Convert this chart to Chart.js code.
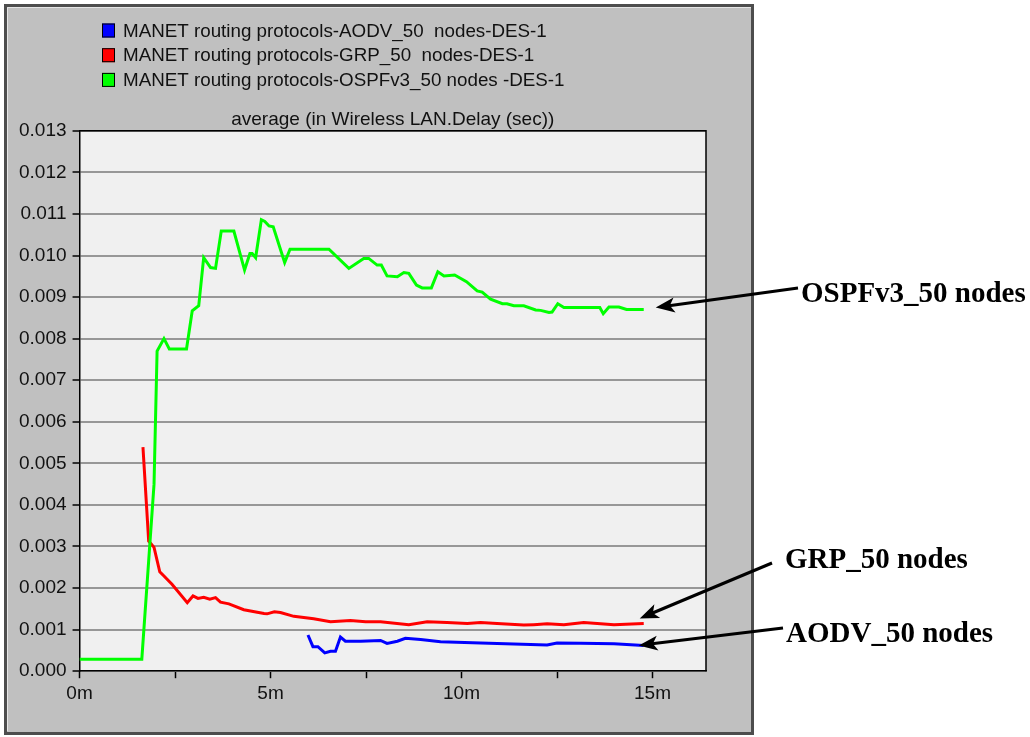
<!DOCTYPE html>
<html>
<head>
<meta charset="utf-8">
<title>Wireless LAN Delay - MANET routing protocols</title>
<script src="https://cdn.jsdelivr.net/npm/chart.js@4.4.0/dist/chart.umd.min.js"></script>
<style>
  html, body { margin: 0; padding: 0; background: #ffffff; }
  #plot { display: block; }
</style>
</head>
<body>
<canvas id="plot" width="1030" height="737"></canvas>
<script>
// simulation time (minutes) / average Wireless LAN delay (sec)
const aodvTime  = [5.98, 6.11, 6.24, 6.42, 6.57, 6.70, 6.83, 6.96, 7.36, 7.88, 8.05, 8.32, 8.53, 8.93, 9.45, 10.50, 12.24, 12.50, 13.12, 13.99, 14.77];
const aodvDelay = [0.00087, 0.00059, 0.00059, 0.00044, 0.00048, 0.00048, 0.00082, 0.00072, 0.00072, 0.00074, 0.00067, 0.00072, 0.00079, 0.00076, 0.00071, 0.00068, 0.00063, 0.00068, 0.00067, 0.00066, 0.00062];

const grpTime  = [1.66, 1.81, 1.95, 2.10, 2.21, 2.42, 2.82, 2.97, 3.10, 3.25, 3.41, 3.56, 3.69, 3.91, 4.30, 4.83, 4.91, 5.10, 5.26, 5.61, 6.13, 6.57, 7.09, 7.49, 7.88, 8.62, 9.10, 9.62, 10.15, 10.50, 10.93, 11.63, 11.89, 12.24, 12.68, 13.20, 13.64, 13.99, 14.77];
const grpDelay = [0.00539, 0.00313, 0.00298, 0.00239, 0.00229, 0.00209, 0.00165, 0.00181, 0.00175, 0.00178, 0.00173, 0.00177, 0.00166, 0.00162, 0.00148, 0.00139, 0.00138, 0.00143, 0.00141, 0.00132, 0.00126, 0.00119, 0.00122, 0.00119, 0.00119, 0.00112, 0.00119, 0.00117, 0.00115, 0.00117, 0.00115, 0.00111, 0.00112, 0.00114, 0.00112, 0.00117, 0.00114, 0.00112, 0.00115];

const ospfTime  = [0, 1.63, 1.95, 2.03, 2.21, 2.35, 2.80, 2.95, 3.12, 3.25, 3.43, 3.56, 3.71, 4.04, 4.32, 4.46, 4.52, 4.61, 4.76, 4.85, 4.96, 5.07, 5.37, 5.51, 6.53, 7.05, 7.44, 7.57, 7.79, 7.90, 8.05, 8.32, 8.49, 8.62, 8.82, 8.97, 9.21, 9.38, 9.54, 9.82, 10.13, 10.41, 10.54, 10.76, 11.07, 11.19, 11.37, 11.63, 11.94, 12.07, 12.29, 12.37, 12.52, 12.68, 13.62, 13.71, 13.86, 14.12, 14.32, 14.77];
const ospfDelay = [0.00029, 0.00029, 0.0045, 0.0077, 0.0080, 0.00775, 0.00775, 0.00867, 0.00879, 0.00995, 0.00971, 0.00969, 0.01059, 0.01059, 0.00965, 0.01005, 0.01005, 0.00995, 0.01086, 0.01082, 0.01071, 0.01069, 0.00983, 0.01015, 0.01015, 0.00969, 0.00993, 0.00993, 0.00977, 0.00977, 0.00951, 0.00949, 0.00959, 0.00957, 0.00929, 0.00922, 0.00922, 0.00961, 0.00951, 0.00953, 0.00937, 0.00915, 0.00912, 0.00895, 0.00884, 0.00884, 0.00879, 0.00879, 0.00869, 0.00868, 0.00863, 0.00864, 0.00884, 0.00875, 0.00875, 0.00860, 0.00876, 0.00876, 0.00870, 0.00870];

const seriesLabels = [
    "MANET routing protocols-AODV_50  nodes-DES-1",
    "MANET routing protocols-GRP_50  nodes-DES-1",
    "MANET routing protocols-OSPFv3_50 nodes -DES-1"
];
const seriesColors = ["#0000ff", "#ff0000", "#00ff00"];
const xTickLabels = [0, 5, 10, 15];   // minutes shown under the axis
const noteLabels = ["AODV_50 nodes", "GRP_50 nodes", "OSPFv3_50 nodes"];
const chartTitle = "average (in Wireless LAN.Delay (sec))";

const toPoints = (t, v) => t.map((x, i) => ({x: x, y: v[i]}));

const FONT = "'Liberation Sans', Arial, sans-serif";

// gray OPNET-style panel + light plot background
const panelPlugin = {
    id: 'panel',
    beforeDraw: (chart) => {
        const {ctx, chartArea} = chart;
        ctx.save();
        ctx.fillStyle = '#ffffff';
        ctx.fillRect(0, 0, chart.width, chart.height);

        ctx.fillStyle = '#c0c0c0';
        ctx.fillRect(4, 4, 750, 731);
        ctx.strokeStyle = '#4d4d4d';
        ctx.lineWidth = 3;
        ctx.strokeRect(5.5, 5.5, 747, 728);
        ctx.strokeStyle = '#e6e6e6';
        ctx.lineWidth = 1;
        ctx.beginPath();
        ctx.moveTo(7.5, 731);
        ctx.lineTo(7.5, 7.5);
        ctx.lineTo(751, 7.5);
        ctx.stroke();

        ctx.fillStyle = '#f0f0f0';
        ctx.fillRect(chartArea.left, chartArea.top, chartArea.right - chartArea.left, chartArea.bottom - chartArea.top);
        ctx.restore();
    },
    beforeDatasetsDraw: (chart) => {
        // close the plot box on top and right
        const {ctx, chartArea} = chart;
        ctx.save();
        ctx.strokeStyle = '#000';
        ctx.lineWidth = 1.5;
        ctx.beginPath();
        ctx.moveTo(chartArea.left, chartArea.top);
        ctx.lineTo(chartArea.right, chartArea.top);
        ctx.lineTo(chartArea.right, chartArea.bottom);
        ctx.stroke();
        ctx.restore();
    }
};

// stacked legend, one series per row
const legendPlugin = {
    id: 'stackedLegend',
    afterDraw: (chart) => {
        const {ctx} = chart;
        const x0 = 102, y0 = 30.5, rowH = 24.7;
        ctx.save();
        ctx.font = "18.8px " + FONT;
        ctx.textBaseline = 'middle';
        chart.data.datasets.forEach((ds, i) => {
            const y = y0 + i * rowH;
            ctx.fillStyle = ds.borderColor;
            ctx.fillRect(x0, y - 7, 13, 14);
            ctx.strokeStyle = '#000';
            ctx.lineWidth = 1;
            ctx.strokeRect(x0 + 0.5, y - 6.5, 12, 13);
            ctx.fillStyle = '#111';
            ctx.fillText(ds.label, x0 + 21, y + 1);
        });
        ctx.restore();
    }
};

const drawArrow = (ctx, x0, y0, x1, y1) => {
    const a = Math.atan2(y1 - y0, x1 - x0);
    const len = 19, half = 7.5;
    const c = Math.cos(a), s = Math.sin(a);
    ctx.beginPath();
    ctx.moveTo(x0, y0);
    ctx.lineTo(x1 - len * 0.7 * c, y1 - len * 0.7 * s);
    ctx.stroke();
    ctx.beginPath();
    ctx.moveTo(x1, y1);
    ctx.lineTo(x1 - len * c + half * s, y1 - len * s - half * c);
    ctx.lineTo(x1 - len * 0.75 * c, y1 - len * 0.75 * s);
    ctx.lineTo(x1 - len * c - half * s, y1 - len * s + half * c);
    ctx.closePath();
    ctx.fill();
};

// callouts on the right, pointing at the last sample of each series
const callouts = [
    {set: 2, text: noteLabels[2], tx: 801, ty: 302, tail: [798, 288], dx: 12, dy: -2},
    {set: 1, text: noteLabels[1], tx: 785, ty: 568, tail: [772, 563], dx: -4, dy: -5},
    {set: 0, text: noteLabels[0], tx: 786, ty: 642, tail: [783, 628], dx: -5, dy: 0}
];

const calloutPlugin = {
    id: 'callouts',
    afterDraw: (chart) => {
        const {ctx} = chart;
        const xs = chart.scales.x, ys = chart.scales.y;
        ctx.save();
        ctx.fillStyle = '#000';
        ctx.strokeStyle = '#000';
        ctx.lineWidth = 3;
        ctx.font = "bold 29px 'Liberation Serif', 'Times New Roman', serif";
        ctx.textBaseline = 'alphabetic';
        callouts.forEach(c => {
            const d = chart.data.datasets[c.set].data;
            const last = d[d.length - 1];
            const tipX = xs.getPixelForValue(last.x) + c.dx;
            const tipY = ys.getPixelForValue(last.y) + c.dy;
            drawArrow(ctx, c.tail[0], c.tail[1], tipX, tipY);
            ctx.fillText(c.text, c.tx, c.ty);
        });
        ctx.restore();
    }
};

const lineSet = (i, t, v, order) => ({
    label: seriesLabels[i],
    data: toPoints(t, v),
    borderColor: seriesColors[i],
    backgroundColor: seriesColors[i],
    borderWidth: 3,
    pointRadius: 0,
    tension: 0,
    fill: false,
    order: order
});

let config = {
    type: 'line',
    data: {
        datasets: [
            lineSet(0, aodvTime, aodvDelay, 1),
            lineSet(1, grpTime, grpDelay, 2),
            lineSet(2, ospfTime, ospfDelay, 0)
        ]
    },
    options: {
        responsive: false,
        animation: false,
        devicePixelRatio: 1,
        events: [],
        layout: {
            padding: {left: 13, right: 324, top: 100, bottom: 28}
        },
        scales: {
            x: {
                type: 'linear',
                min: 0,
                max: 16.4,
                ticks: {
                    stepSize: 2.5,
                    autoSkip: false,
                    includeBounds: false,
                    maxRotation: 0,
                    padding: 4,
                    color: '#111',
                    font: {family: FONT, size: 19},
                    callback: (v) => xTickLabels.includes(v) ? v + 'm' : ''
                },
                grid: {
                    drawOnChartArea: false,
                    tickLength: 7,
                    tickColor: '#000',
                    tickWidth: 1.5
                },
                border: {color: '#000', width: 1.5}
            },
            y: {
                min: 0,
                max: 0.013,
                ticks: {
                    stepSize: 0.001,
                    padding: 6,
                    color: '#111',
                    font: {family: FONT, size: 19},
                    callback: (v) => v.toFixed(3)
                },
                grid: {
                    color: '#979797',
                    lineWidth: 2,
                    tickLength: 7,
                    tickColor: '#000',
                    tickWidth: 1.5
                },
                border: {color: '#000', width: 1.5}
            }
        },
        plugins: {
            legend: {display: false},
            tooltip: {enabled: false},
            title: {
                display: true,
                text: chartTitle,
                fullSize: false,
                color: '#111',
                font: {family: FONT, size: 19, weight: 'normal'},
                padding: {top: 8, bottom: 0}
            }
        }
    },
    plugins: [panelPlugin, legendPlugin, calloutPlugin]
};

new Chart(document.getElementById('plot'), config);
</script>
</body>
</html>
